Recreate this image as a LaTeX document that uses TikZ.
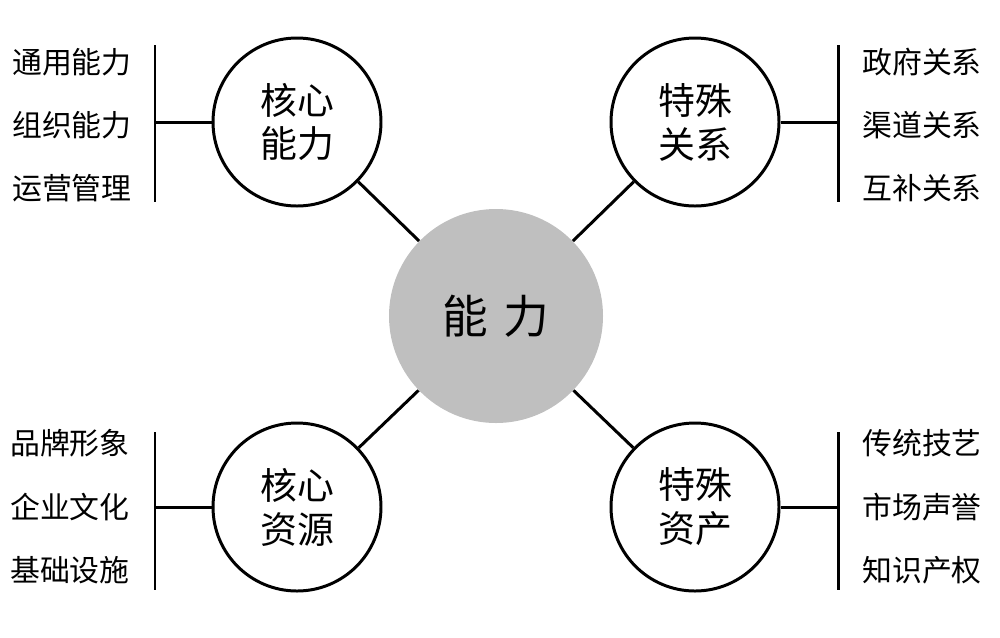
\documentclass[tikz,border=0pt]{standalone}
\usepackage{fontspec}
\newfontfamily\cjk{Noto Sans CJK SC}
\begin{document}
\begin{tikzpicture}[x=0.02cm,y=-0.02cm,
  ln/.style={line width=1.7pt,black},
  sub/.style={circle,draw,line width=1.7pt,fill=white,minimum size=168*0.02cm,inner sep=0pt,align=center,font=\cjk\fontsize{21}{25}\selectfont},
  lbl/.style={font=\cjk\fontsize{17}{20}\selectfont,inner sep=0pt}]
\useasboundingbox (0,0) rectangle (1000,637);
\node[circle,fill=black!25,minimum size=214*0.02cm,inner sep=0pt,font=\cjk\fontsize{26}{30}\selectfont] (c) at (496,316) {能\,\,力};
\node[sub] (tl) at (297,122) {核心\\能力};
\node[sub] (tr) at (695,122) {特殊\\关系};
\node[sub] (bl) at (297,507) {核心\\资源};
\node[sub] (br) at (695,507) {特殊\\资产};
\draw[ln] (c) -- (tl); \draw[ln] (c) -- (tr); \draw[ln] (c) -- (bl); \draw[ln] (c) -- (br);
% brackets
\coordinate (tlb) at (155,122); \coordinate (tla) at (155,45); \coordinate (tlz) at (155,202);
\coordinate (trb) at (838,122); \coordinate (tra) at (838,45); \coordinate (trz) at (838,202);
\coordinate (blb) at (155,507); \coordinate (bla) at (155,432); \coordinate (blz) at (155,590);
\coordinate (brb) at (838,507); \coordinate (bra) at (838,432); \coordinate (brz) at (838,590);
\draw[ln] (tla) -- (tlz); \draw[ln] (tl) -- (tlb);
\draw[ln] (tra) -- (trz); \draw[ln] (tr) -- (trb);
\draw[ln] (bla) -- (blz); \draw[ln] (bl) -- (blb);
\draw[ln] (bra) -- (brz); \draw[ln] (br) -- (brb);
% labels
\node[lbl,anchor=east] (a1) at (132,62) {通用能力};
\node[lbl,anchor=east] (a2) at (132,125) {组织能力};
\node[lbl,anchor=east] (a3) at (132,188) {运营管理};
\node[lbl,anchor=west] (b1) at (862,62) {政府关系};
\node[lbl,anchor=west] (b2) at (862,125) {渠道关系};
\node[lbl,anchor=west] (b3) at (862,188) {互补关系};
\node[lbl,anchor=east] (c1) at (130,443) {品牌形象};
\node[lbl,anchor=east] (c2) at (130,507) {企业文化};
\node[lbl,anchor=east] (c3) at (130,570) {基础设施};
\node[lbl,anchor=west] (d1) at (862,443) {传统技艺};
\node[lbl,anchor=west] (d2) at (862,507) {市场声誉};
\node[lbl,anchor=west] (d3) at (862,570) {知识产权};
\end{tikzpicture}
\end{document}
